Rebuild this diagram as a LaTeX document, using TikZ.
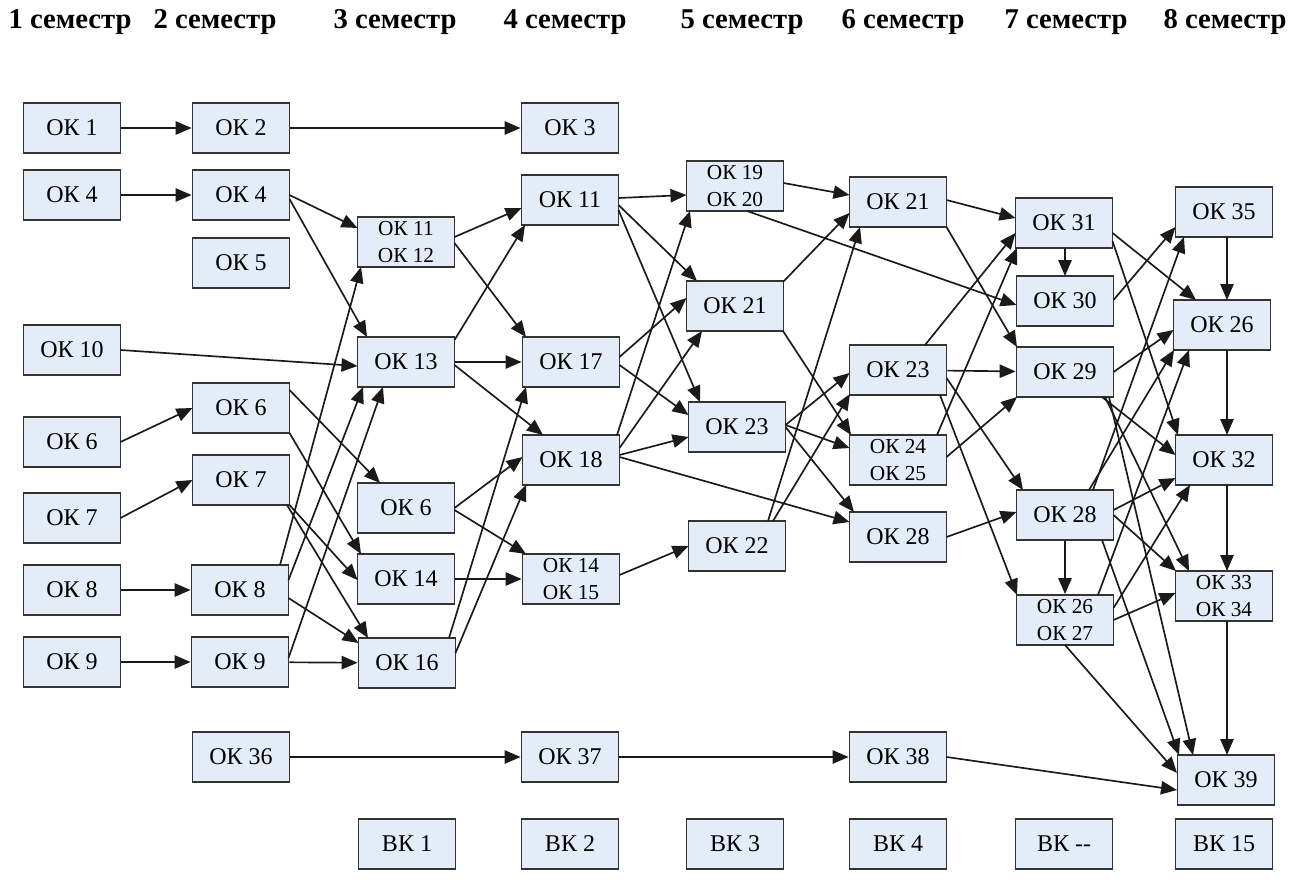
\documentclass[tikz,border=0pt]{standalone}
\usepackage{fontspec}
\setmainfont{Liberation Serif}
\usetikzlibrary{arrows.meta,calc}
\definecolor{boxfill}{HTML}{E4ECF7}
\definecolor{boxline}{HTML}{333333}
\definecolor{lnk}{HTML}{1A1A1A}
\newcommand{\conn}[4]{\draw[arr] ($(#1)+#2$) -- ($(#3)+#4$);}
\begin{document}
\begin{tikzpicture}[x=0.75pt,y=-0.75pt,
  box/.style={draw=boxline,fill=boxfill,line width=1.35pt,minimum width=72.75pt,minimum height=37.5pt,inner sep=0pt,font=\fontsize{18}{21}\selectfont},
  box2/.style={box,align=center,font=\fontsize{16}{20}\selectfont},
  hdr/.style={font=\fontsize{21.5}{25}\selectfont\bfseries,inner sep=0pt},
  arr/.style={draw=lnk,line width=1.25pt,-{Triangle[length=12pt,width=10pt]}}]
\useasboundingbox (0,0) rectangle (1300,893);
\fill[white] (0,0) rectangle (1300,893);
% headers
\node[hdr] (s1) at (70,22) {1 семестр};
\node[hdr] (s2) at (215,22) {2 семестр};
\node[hdr] (s3) at (395,22) {3 семестр};
\node[hdr] (s4) at (565,22) {4 семестр};
\node[hdr] (s5) at (742,22) {5 семестр};
\node[hdr] (s6) at (903,22) {6 семестр};
\node[hdr] (s7) at (1066,22) {7 семестр};
\node[hdr] (s8) at (1225,22) {8 семестр};
% column 1
\node[box] (a1) at (72,128) {ОК 1};
\node[box] (a4) at (72,195) {ОК 4};
\node[box] (a10) at (72,350) {ОК 10};
\node[box] (a6) at (72,442) {ОК 6};
\node[box] (a7) at (72,518) {ОК 7};
\node[box] (a8) at (72,590) {ОК 8};
\node[box] (a9) at (72,662) {ОК 9};
% column 2
\node[box] (b2) at (241,128) {ОК 2};
\node[box] (b4) at (241,195) {ОК 4};
\node[box] (b5) at (241,263) {ОК 5};
\node[box] (b6) at (241,408) {ОК 6};
\node[box] (b7) at (241,480) {ОК 7};
\node[box] (b8) at (240,590) {ОК 8};
\node[box] (b9) at (240,662) {ОК 9};
\node[box] (b36) at (241,757) {ОК 36};
% column 3
\node[box2] (c1112) at (406,242) {ОК 11\\ОК 12};
\node[box] (c13) at (406,362) {ОК 13};
\node[box] (c6) at (406,508) {ОК 6};
\node[box] (c14) at (406,579) {ОК 14};
\node[box] (c16) at (407,663) {ОК 16};
\node[box] (k1) at (407,844) {ВК 1};
% column 4
\node[box] (d3) at (570,128) {ОК 3};
\node[box] (d11) at (570,200) {ОК 11};
\node[box] (d17) at (571,362) {ОК 17};
\node[box] (d18) at (571,460) {ОК 18};
\node[box2] (d1415) at (571,579) {ОК 14\\ОК 15};
\node[box] (d37) at (570,757) {ОК 37};
\node[box] (k2) at (570,844) {ВК 2};
% column 5
\node[box2] (e1920) at (735,186) {ОК 19\\ОК 20};
\node[box] (e21) at (735,306) {ОК 21};
\node[box] (e23) at (737,427) {ОК 23};
\node[box] (e22) at (737,546) {ОК 22};
\node[box] (k3) at (735,844) {ВК 3};
% column 6
\node[box] (f21) at (898,202) {ОК 21};
\node[box] (f23) at (898,370) {ОК 23};
\node[box2] (f2425) at (898,460) {ОК 24\\ОК 25};
\node[box] (f28) at (898,537) {ОК 28};
\node[box] (f38) at (898,757) {ОК 38};
\node[box] (k4) at (898,844) {ВК 4};
% column 7
\node[box] (g31) at (1064,223) {ОК 31};
\node[box] (g30) at (1065,301) {ОК 30};
\node[box] (g29) at (1065,372) {ОК 29};
\node[box] (g28) at (1065,515) {ОК 28};
\node[box2] (g2627) at (1065,620) {ОК 26\\ОК 27};
\node[box] (k5) at (1064,844) {ВК -{}-};
% column 8
\node[box] (h35) at (1224,212) {ОК 35};
\node[box] (h26) at (1222,325) {ОК 26};
\node[box] (h32) at (1224,460) {ОК 32};
\node[box2] (h3334) at (1224,596) {ОК 33\\ОК 34};
\node[box] (h39) at (1226,780) {ОК 39};
\node[box] (k6) at (1224,844) {ВК 15};
% connectors: column 1 -> 2
\draw[arr] (a1) -- (b2);
\draw[arr] (a4) -- (b4);
\conn{a6}{(48.5,0)}{b6}{(-48.5,0)}
\conn{a7}{(48.5,0)}{b7}{(-48.5,0)}
\draw[arr] (a8) -- (b8);
\draw[arr] (a9) -- (b9);
\conn{a10}{(48.5,0)}{c13}{(-48.5,4)}
% column 2 -> 3
\draw[arr] (b2) -- (d3);
\conn{b4}{(48.5,0)}{c1112}{(-48.5,-14)}
\conn{b4}{(48.5,4)}{c13}{(-39,-25)}
\conn{b6}{(48.5,-18)}{c6}{(-26,-25)}
\conn{b6}{(48.5,25)}{c14}{(-45,-25)}
\conn{b7}{(48.5,25)}{c14}{(-48.5,1)}
\conn{b7}{(46,25)}{c16}{(-39,-25)}
\conn{b8}{(40,-25)}{c1112}{(-45,25)}
\conn{b8}{(48.5,-10)}{c13}{(-43,25)}
\conn{b8}{(48.5,8)}{c16}{(-48.5,-20)}
\conn{b9}{(48.5,-4)}{c13}{(-23,25)}
\draw[arr] (b9) -- (c16);
\draw[arr] (b36) -- (d37);
% column 3 -> 4
\conn{c1112}{(48.5,-5)}{d11}{(-48.5,8)}
\conn{c1112}{(48.5,1)}{d17}{(-45,-25)}
\conn{c13}{(48.5,-22)}{d11}{(-45,25)}
\draw[arr] (c13) -- (d17);
\conn{c13}{(48.5,3)}{d18}{(-28,-25)}
\conn{c6}{(48.5,0)}{d18}{(-48.5,-3)}
\conn{c6}{(48.5,2)}{d1415}{(-45,-25)}
\draw[arr] (c14) -- (d1415);
\conn{c16}{(42,-25)}{d17}{(-45,25)}
\conn{c16}{(48.5,-10)}{d18}{(-45,25)}
% column 4 -> 5
\conn{d11}{(48.5,-2)}{e1920}{(-48.5,9)}
\conn{d11}{(48.5,5)}{e21}{(-38,-25)}
\conn{d11}{(48.5,10)}{e23}{(-37,-25)}
\conn{d17}{(48.5,-5)}{e21}{(-48.5,-8)}
\conn{d17}{(48.5,3)}{e23}{(-48.5,-12)}
\conn{d18}{(46,-25)}{e1920}{(-45,25)}
\conn{d18}{(48.5,-12)}{e21}{(-33,25)}
\conn{d18}{(48.5,-5)}{e23}{(-48.5,10)}
\conn{d18}{(48.5,-3)}{f28}{(-48.5,-15)}
\conn{d1415}{(48.5,-4)}{e22}{(-48.5,0)}
% column 5 -> 6
\conn{e1920}{(48.5,-3)}{f21}{(-48.5,-7)}
\conn{e1920}{(12,25)}{g30}{(-48.5,4)}
\conn{e21}{(48,-24)}{f21}{(-48.5,11)}
\conn{e21}{(48,25)}{f2425}{(-47,-25)}
\conn{e23}{(48.5,-2)}{f23}{(-48.5,3)}
\conn{e23}{(48.5,-2)}{f2425}{(-48.5,-12)}
\conn{e23}{(48.5,0)}{f28}{(-44,-25)}
\conn{e22}{(31,-25)}{f21}{(-38,25)}
\conn{e22}{(36,-25)}{f23}{(-48,24)}
\draw[arr] (d37) -- (f38);
% column 6 -> 7
\conn{f21}{(48.5,-2)}{g31}{(-48.5,-5)}
\conn{f21}{(48.5,25)}{g29}{(-48,-25)}
\conn{f23}{(27,-25)}{g31}{(-48.5,10)}
\draw[arr] (f23) -- (g29);
\conn{f23}{(48.5,8)}{g28}{(-42,-25)}
\conn{f23}{(42,25)}{g2627}{(-48,-25)}
\conn{f2425}{(39,-25)}{g31}{(-47,25)}
\conn{f2425}{(48.5,-3)}{g29}{(-48,25)}
\conn{f28}{(48.5,0)}{g28}{(-48.5,-3)}
\conn{f38}{(48.5,0)}{h39}{(-49,10)}
% column 7
\conn{g31}{(1,25)}{g30}{(0,-25)}
\draw[arr] (g28) -- (g2627);
% column 7 -> 8
\conn{g31}{(48.5,10)}{h26}{(-26,-25)}
\conn{g31}{(48.5,18)}{h32}{(-46,-25)}
\conn{g30}{(48.5,-1)}{h35}{(-48.5,15)}
\conn{g29}{(48.5,0)}{h26}{(-48.5,5)}
\conn{g29}{(37,25)}{h32}{(-48.5,-5)}
\conn{g29}{(40,25)}{h3334}{(-35,-25)}
\conn{g29}{(44,25)}{h39}{(-33,-25)}
\conn{g28}{(28,-25)}{h35}{(-40,25)}
\conn{g28}{(24,-25)}{h26}{(-48,25)}
\conn{g28}{(48.5,-5)}{h32}{(-48.5,18)}
\conn{g28}{(48.5,0)}{h3334}{(-48,-25)}
\conn{g28}{(37,25)}{h39}{(-47,-25)}
\conn{g2627}{(33,-25)}{h26}{(-33,25)}
\conn{g2627}{(48.5,-12)}{h32}{(-34,25)}
\conn{g2627}{(48.5,0)}{h3334}{(-48.5,-3)}
\conn{g2627}{(0,25)}{h39}{(-49,-7)}
% column 8 verticals
\conn{h35}{(3,25)}{h26}{(5,-25)}
\conn{h26}{(5,25)}{h32}{(3,-25)}
\conn{h32}{(3,25)}{h3334}{(3,-25)}
\conn{h3334}{(3,25)}{h39}{(1,-25)}
\end{tikzpicture}
\end{document}
